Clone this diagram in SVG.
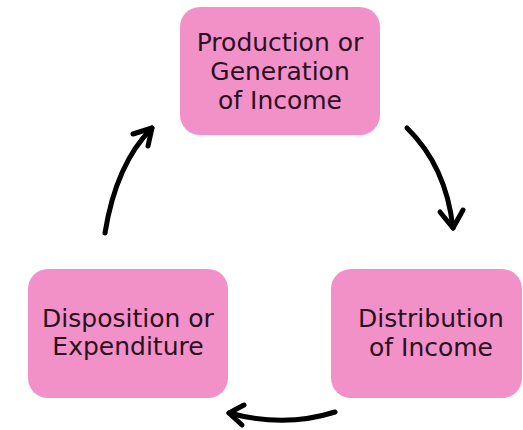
<svg xmlns="http://www.w3.org/2000/svg" width="523" height="430" viewBox="0 0 523 430">
<style>
.box{fill:#f291c8;}
.lbl{font-family:"DejaVu Sans","Open Sans",sans-serif;font-size:25px;fill:#2b0f22;text-anchor:middle;}
.arr{fill:none;stroke:#000;stroke-width:5;stroke-linecap:round;stroke-linejoin:round;}
</style>
<rect width="523" height="430" fill="#fff"/>
<g id="node-production">
<rect class="box" x="180" y="7" width="200" height="128" rx="20"/>
<text class="lbl" x="280" y="51">Production or</text>
<text class="lbl" x="280" y="80">Generation</text>
<text class="lbl" x="280" y="109">of Income</text>
</g>
<g id="node-distribution">
<rect class="box" x="331" y="269" width="191" height="129" rx="20"/>
<text class="lbl" x="431" y="327">Distribution</text>
<text class="lbl" x="431" y="356">of Income</text>
</g>
<g id="node-disposition">
<rect class="box" x="28" y="269" width="200" height="129" rx="20"/>
<text class="lbl" x="128" y="327">Disposition or</text>
<text class="lbl" x="128" y="355">Expenditure</text>
</g>
<g id="connectors">
<path class="arr" d="M105,233 Q116,164 152,128"/>
<path class="arr" d="M133,134 L152,128 L148,146"/>
<path class="arr" d="M407,128 Q446,166 453,228"/>
<path class="arr" d="M440,212 L453,228 L463,210"/>
<path class="arr" d="M335,412 Q285,428 229,413"/>
<path class="arr" d="M244,405 L229,413 L242,425"/>
</g>
</svg>
